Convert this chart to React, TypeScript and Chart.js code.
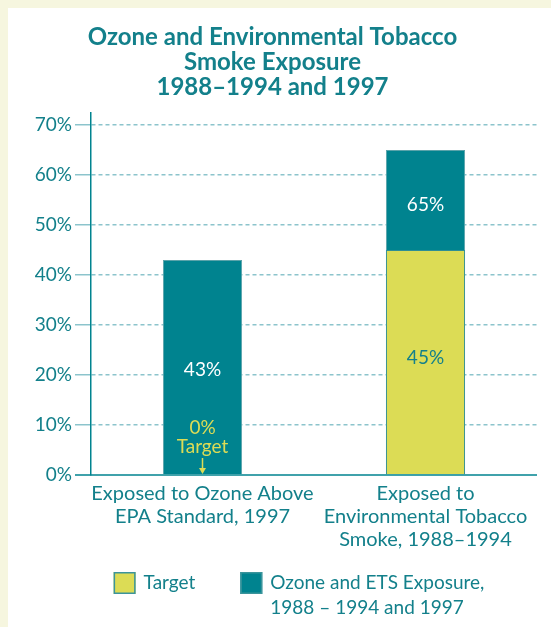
import React, { useEffect, useRef } from "react";
import { Chart, registerables } from "chart.js";

Chart.register(...registerables);

// ---- data ----
const titleLines = ["Ozone and Environmental Tobacco", "Smoke Exposure", "1988–1994 and 1997"];
const categories = [
  ["Exposed to Ozone Above", "EPA Standard, 1997"],
  ["Exposed to", "Environmental Tobacco", "Smoke, 1988–1994"],
];
const targetValues = [0, 45];
const exposureValues = [43, 65];
const yTicks = [0, 10, 20, 30, 40, 50, 60, 70];
const seriesLabels = ["Target", "Ozone and ETS Exposure, 1988 – 1994 and 1997"];
const legendLines = [["Target"], ["Ozone and ETS Exposure,", "1988 – 1994 and 1997"]];

// ---- styles ----
const FONT = "Lato, 'Noto Sans', sans-serif";
const TEAL = "#00838f";
const TEXT_TEAL = "#13808b";
const YELLOW = "#dcdc55";
const GRID = "#8cc4cc";
const CREAM = "#f6f6df";

const labelPlugin = {
  id: "barLabels",
  afterDatasetsDraw(chart: any) {
    const ctx = chart.ctx;
    const y = chart.scales.y;
    const meta = chart.getDatasetMeta(1);
    const base = y.getPixelForValue(0);
    ctx.save();
    ctx.font = `19px ${FONT}`;
    ctx.textAlign = "center";
    ctx.textBaseline = "middle";
    categories.forEach((_, i) => {
      const bar = meta.data[i];
      const x = bar.x;
      const t = targetValues[i];
      const e = exposureValues[i];
      ctx.fillStyle = "#ffffff";
      ctx.fillText(e + "%", x, y.getPixelForValue((t + e) / 2) + (t > 0 ? 5 : 2));
      if (t > 0) {
        ctx.fillStyle = TEXT_TEAL;
        ctx.fillText(t + "%", x, y.getPixelForValue(t / 2) - 5);
      } else {
        ctx.fillStyle = YELLOW;
        ctx.fillText(t + "%", x, base - 47);
        ctx.fillText("Target", x, base - 28);
        ctx.strokeStyle = YELLOW;
        ctx.lineWidth = 1.5;
        ctx.beginPath();
        ctx.moveTo(x, base - 17);
        ctx.lineTo(x, base - 3);
        ctx.stroke();
        ctx.beginPath();
        ctx.moveTo(x - 3.5, base - 7);
        ctx.lineTo(x, base - 1);
        ctx.lineTo(x + 3.5, base - 7);
        ctx.closePath();
        ctx.fill();
      }
    });
    ctx.restore();
  },
  afterDraw(chart: any) {
    const ctx = chart.ctx;
    const { left, right } = chart.chartArea;
    const base = chart.scales.y.getPixelForValue(0);
    // baseline
    ctx.save();
    ctx.strokeStyle = TEAL;
    ctx.lineWidth = 1.5;
    ctx.beginPath();
    ctx.moveTo(left - 16, base);
    ctx.lineTo(right, base);
    ctx.stroke();

    // legend
    ctx.font = `19px ${FONT}`;
    ctx.textBaseline = "middle";
    ctx.textAlign = "left";
    const box = 22;
    const gapText = 8;
    const gapItems = 45;
    const widths = legendLines.map(
      (lines) => box + gapText + Math.max(...lines.map((l) => ctx.measureText(l).width))
    );
    const total = widths.reduce((a, b) => a + b, 0) + gapItems * (widths.length - 1);
    let x = (left + right) / 2 - 15 - total / 2;
    const top = base + 97;
    chart.data.datasets.forEach((ds: any, i: number) => {
      ctx.fillStyle = ds.backgroundColor;
      ctx.fillRect(x, top, box, box);
      ctx.strokeStyle = "#3b949b";
      ctx.lineWidth = 1.5;
      ctx.strokeRect(x + 0.75, top + 0.75, box - 1.5, box - 1.5);
      ctx.fillStyle = TEXT_TEAL;
      legendLines[i].forEach((line, j) => {
        ctx.fillText(line, x + box + gapText, top + box / 2 + j * 25);
      });
      x += widths[i] + gapItems;
    });
    ctx.restore();
  },
};

export default function App() {
  const ref = useRef<HTMLCanvasElement>(null);
  useEffect(() => {
    const chart = new Chart(ref.current!, {
      type: "bar",
      data: {
        labels: categories as any,
        datasets: [
          {
            label: seriesLabels[0],
            data: targetValues,
            backgroundColor: YELLOW,
            borderColor: "#2e8e95",
            borderWidth: 1,
            order: 0,
            barPercentage: 0.355,
            categoryPercentage: 1,
          },
          {
            label: seriesLabels[1],
            data: exposureValues,
            backgroundColor: TEAL,
            borderColor: "#5aa3aa",
            borderWidth: 1,
            order: 1,
            barPercentage: 0.355,
            categoryPercentage: 1,
          },
        ],
      },
      options: {
        responsive: false,
        animation: false,
        devicePixelRatio: 1,
        layout: { padding: { left: 0, right: 14, top: 0, bottom: 0 } },
        plugins: {
          legend: { display: false },
          tooltip: { enabled: false },
          title: {
            display: true,
            text: titleLines,
            color: TEXT_TEAL,
            font: { family: FONT, size: 24, weight: "bold", lineHeight: 1.04 },
            padding: { top: 17, bottom: 13 },
          },
        },
        scales: {
          x: {
            stacked: true,
            afterFit: (s: any) => {
              s.height = 152;
            },
            grid: { display: false, drawTicks: false },
            border: { display: false },
            ticks: {
              color: TEXT_TEAL,
              font: { family: FONT, size: 20, lineHeight: 1.15 },
              padding: 7,
              maxRotation: 0,
              autoSkip: false,
            },
          },
          y: {
            stacked: false,
            min: 0,
            max: 72.4,
            afterBuildTicks: (s: any) => {
              s.ticks = yTicks.map((v) => ({ value: v }));
            },
            afterFit: (s: any) => {
              s.width = 83;
            },
            ticks: {
              color: TEXT_TEAL,
              font: { family: FONT, size: 19 },
              padding: 3,
              callback: (v: any) => v + "%",
            },
            grid: {
              color: (c: any) => (c.tick && c.tick.value === 0 ? "rgba(0,0,0,0)" : GRID),
              lineWidth: 1.5,
              tickLength: 16,
              drawTicks: true,
            },
            border: { display: true, color: TEAL, width: 1.5, dash: [4, 3] },
          },
        },
      },
      plugins: [labelPlugin],
    } as any);
    return () => chart.destroy();
  }, []);

  return (
    <div style={{ position: "fixed", inset: 0, background: CREAM }}>
      <div
        style={{ position: "absolute", left: 8, top: 8, width: 543, height: 619, background: "#ffffff" }}
      >
        <canvas ref={ref} width={543} height={619} style={{ display: "block", width: 543, height: 619 }} />
      </div>
    </div>
  );
}
